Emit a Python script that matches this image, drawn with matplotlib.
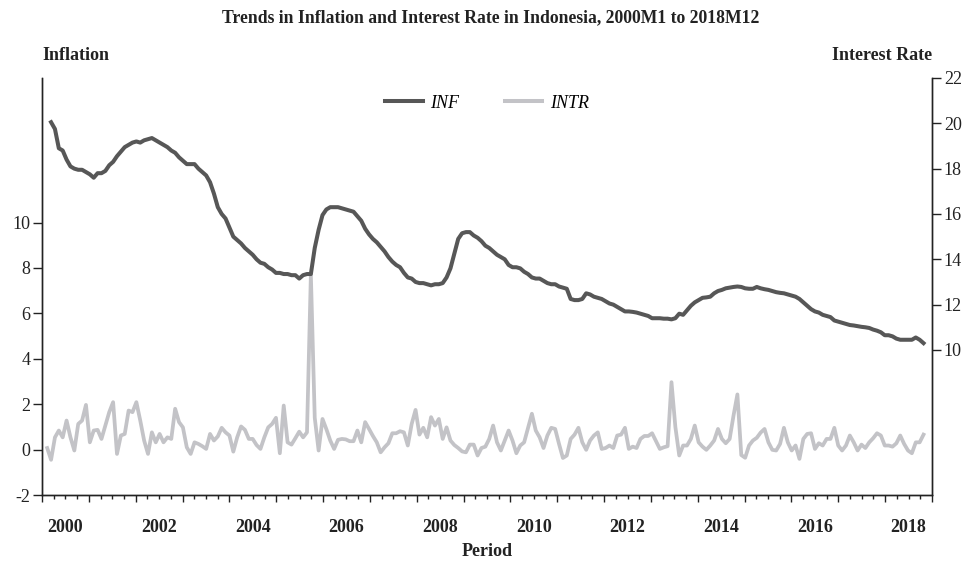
import numpy as np
import matplotlib
matplotlib.use("Agg")
import matplotlib.pyplot as plt
from matplotlib.lines import Line2D

plt.rcParams['font.family'] = ['Liberation Serif', 'DejaVu Serif']
plt.rcParams['axes.unicode_minus'] = False

# monthly INTR (light, left axis), 2000M2 .. 2018M12
intr = [0.07, -0.45, 0.54, 0.84, 0.54, 1.28, 0.54, -0.04, 1.13, 1.28, 1.97, 0.32,
        0.84, 0.87, 0.47, 1.06, 1.65, 2.09, -0.19, 0.62, 0.69, 1.72, 1.65, 2.09,
        1.28, 0.40, -0.19, 0.76, 0.32, 0.69, 0.32, 0.54, 0.47, 1.80, 1.21, 0.98,
        0.10, -0.19, 0.32, 0.25, 0.15, 0.03, 0.69, 0.40, 0.58, 0.96, 0.76, 0.62,
        -0.09, 0.54, 1.02, 0.87, 0.47, 0.47, 0.20, 0.03, 0.54, 0.98, 1.13, 1.40,
        -0.16, 1.94, 0.32, 0.22, 0.50, 0.79, 0.54, 0.76, 7.70, 1.40, -0.04, 1.35,
        0.90, 0.40, 0.03, 0.43, 0.47, 0.45, 0.37, 0.37, 0.84, 0.32, 1.21,
        0.91, 0.60, 0.32, -0.12, 0.10, 0.28, 0.72, 0.72, 0.81, 0.76, 0.18, 1.13,
        1.75, 0.66, 0.96, 0.54, 1.43, 1.06, 1.35, 0.47, 0.98, 0.40, 0.20, 0.07,
        -0.08, -0.12, 0.22, 0.22, -0.26, 0.07, 0.13, 0.47, 1.06, 0.32, -0.04, 0.40,
        0.84, 0.40, -0.16, 0.18, 0.32, 0.95, 1.58, 0.84, 0.54, 0.07, 0.62, 0.96,
        0.91, 0.25, -0.37, -0.26, 0.47, 0.66, 0.96, 0.32, -0.01, 0.40, 0.62, 0.76,
        0.03, 0.07, 0.18, 0.07, 0.62, 0.66, 0.96, 0.03, 0.13, 0.07, 0.47, 0.60,
        0.60, 0.72, 0.37, 0.03, 0.10, 0.15, 2.97, 1.00, -0.26, 0.18, 0.18, 0.47,
        1.06, 0.32, 0.13, -0.01, 0.18, 0.40, 0.91, 0.47, 0.28, 0.47, 1.50, 2.43,
        -0.24, -0.36, 0.18, 0.40, 0.52, 0.75, 0.91, 0.32, -0.01, -0.04, 0.25, 0.96,
        0.32, -0.04, 0.18, -0.41, 0.47, 0.69, 0.72, 0.03, 0.28, 0.18, 0.47, 0.47,
        0.96, 0.18, -0.04, 0.18, 0.62, 0.32, -0.04, 0.22, 0.07, 0.32, 0.50, 0.72,
        0.62, 0.18, 0.18, 0.13, 0.28, 0.62, 0.25, -0.04, -0.16, 0.32, 0.32, 0.66]

# INF (dark, right axis), 2000M3 .. 2018M12
inf = [20.05, 19.75, 18.9, 18.8, 18.4, 18.1, 18.0, 17.95, 17.95, 17.85, 17.75,
       17.6, 17.8, 17.8, 17.9, 18.15, 18.3, 18.55, 18.75, 18.95, 19.05, 19.15, 19.2,
       19.15, 19.25, 19.3, 19.35, 19.25, 19.15, 19.05, 18.95, 18.8, 18.7, 18.5, 18.35,
       18.2, 18.2, 18.2, 18.0, 17.85, 17.7, 17.4, 16.9, 16.3, 16.0, 15.8, 15.4,
       15.0, 14.85, 14.7, 14.5, 14.35, 14.2, 14.0, 13.85, 13.8, 13.65, 13.55, 13.4,
       13.4, 13.35, 13.35, 13.3, 13.3, 13.15, 13.3, 13.35, 13.35, 14.5, 15.3, 15.95,
       16.2, 16.3, 16.3, 16.3, 16.25, 16.2, 16.15, 16.1, 15.9, 15.7, 15.35, 15.1,
       14.9, 14.75, 14.55, 14.35, 14.1, 13.9, 13.75, 13.65, 13.4, 13.2, 13.15, 13.0,
       12.95, 12.95, 12.9, 12.85, 12.9, 12.9, 12.95, 13.2, 13.6, 14.25, 14.9, 15.15,
       15.2, 15.2, 15.05, 14.95, 14.8, 14.6, 14.5, 14.35, 14.2, 14.1, 14.0, 13.75,
       13.65, 13.65, 13.6, 13.45, 13.35, 13.2, 13.15, 13.15, 13.05, 12.95, 12.9, 12.9,
       12.8, 12.75, 12.7, 12.25, 12.2, 12.2, 12.25, 12.5, 12.45, 12.35, 12.3, 12.25,
       12.15, 12.05, 12.0, 11.9, 11.8, 11.7, 11.7, 11.68, 11.65, 11.6, 11.55, 11.5,
       11.4, 11.4, 11.4, 11.38, 11.38, 11.35, 11.4, 11.6, 11.55, 11.75, 11.95, 12.1,
       12.2, 12.3, 12.32, 12.35, 12.5, 12.6, 12.65, 12.72, 12.75, 12.78, 12.8, 12.78,
       12.72, 12.7, 12.7, 12.78, 12.72, 12.68, 12.65, 12.6, 12.55, 12.52, 12.5, 12.45,
       12.4, 12.35, 12.25, 12.1, 11.95, 11.8, 11.7, 11.65, 11.55, 11.5, 11.45, 11.3,
       11.25, 11.2, 11.15, 11.1, 11.08, 11.05, 11.02, 11.0, 10.97, 10.9, 10.85, 10.78,
       10.65, 10.65, 10.6, 10.5, 10.45, 10.45, 10.45, 10.45, 10.55, 10.45, 10.3]

left_ticks = [-2, 0, 2, 4, 6, 8, 10]
right_ticks = [10, 12, 14, 16, 18, 20, 22]
year_labels = list(range(2000, 2019, 2))

# month index (Jan 2000 = 0) -> position on the year axis
m_intr = np.arange(228 - len(intr), 228)
m_inf = np.arange(228 - len(inf), 228)
t_intr = 2000.028 + m_intr * 0.08278
t_inf = 2000.028 + m_inf * 0.08278

dark = '#575757'
light = '#c3c3c7'
ink = '#222222'

fig = plt.figure(figsize=(9.78, 5.68), dpi=100)
ax = fig.add_axes([42 / 978, 1 - 495 / 568, 890 / 978, 417 / 568])
ax2 = ax.twinx()

ax.plot(t_intr, intr, color=light, lw=2.7)
ax2.plot(t_inf, inf, color=dark, lw=2.9)

ax.set_xlim(2000, 2019)
ax.set_ylim(-2, 16.37)
ax2.set_ylim(3.6, 22)

ax.set_yticks(left_ticks)
ax2.set_yticks(right_ticks)
ax.set_xticks(range(2000, 2020))
ax.set_xticks(np.arange(2000, 2019.01, 0.25), minor=True)
ax.set_xticklabels([])

for a in (ax, ax2):
    a.spines['top'].set_visible(False)
    for s in a.spines.values():
        s.set_color(ink)
        s.set_linewidth(1.0)
ax.tick_params(axis='y', length=6.5, width=1, colors=ink, labelsize=13, pad=2)
ax2.tick_params(axis='y', length=6.5, width=1, colors=ink, labelsize=13, pad=2)
ax.tick_params(axis='x', which='major', length=5, width=1, colors=ink)
ax.tick_params(axis='x', which='minor', length=3, width=1, colors=ink)

for y in year_labels:
    ax.text(y + 0.5, -0.077, str(y), transform=ax.get_xaxis_transform(),
            ha='center', va='center', fontsize=13, fontweight='bold', color=ink)

fig.text(491 / 978, 1 - 18 / 568, 'Trends in Inflation and Interest Rate in Indonesia, 2000M1 to 2018M12',
         ha='center', va='center', fontsize=12.7, fontweight='bold', color=ink)
fig.text(42 / 978, 1 - 55 / 568, 'Inflation', ha='left', va='center',
         fontsize=13, fontweight='bold', color=ink)
fig.text(932 / 978, 1 - 55 / 568, 'Interest Rate', ha='right', va='center',
         fontsize=13, fontweight='bold', color=ink)
fig.text(487 / 978, 1 - 552 / 568, 'Period', ha='center', va='center',
         fontsize=13, fontweight='bold', color=ink)

handles = [Line2D([], [], color=dark, lw=2.9), Line2D([], [], color=light, lw=2.9)]
ax2.legend(handles, ['INF', 'INTR'], loc='center', bbox_to_anchor=(0.5, 0.94),
           ncol=2, frameon=False, handlelength=2.1, handletextpad=0.4,
           columnspacing=2.5, prop={'style': 'italic', 'size': 13})

fig.savefig('out.png', dpi=100)
